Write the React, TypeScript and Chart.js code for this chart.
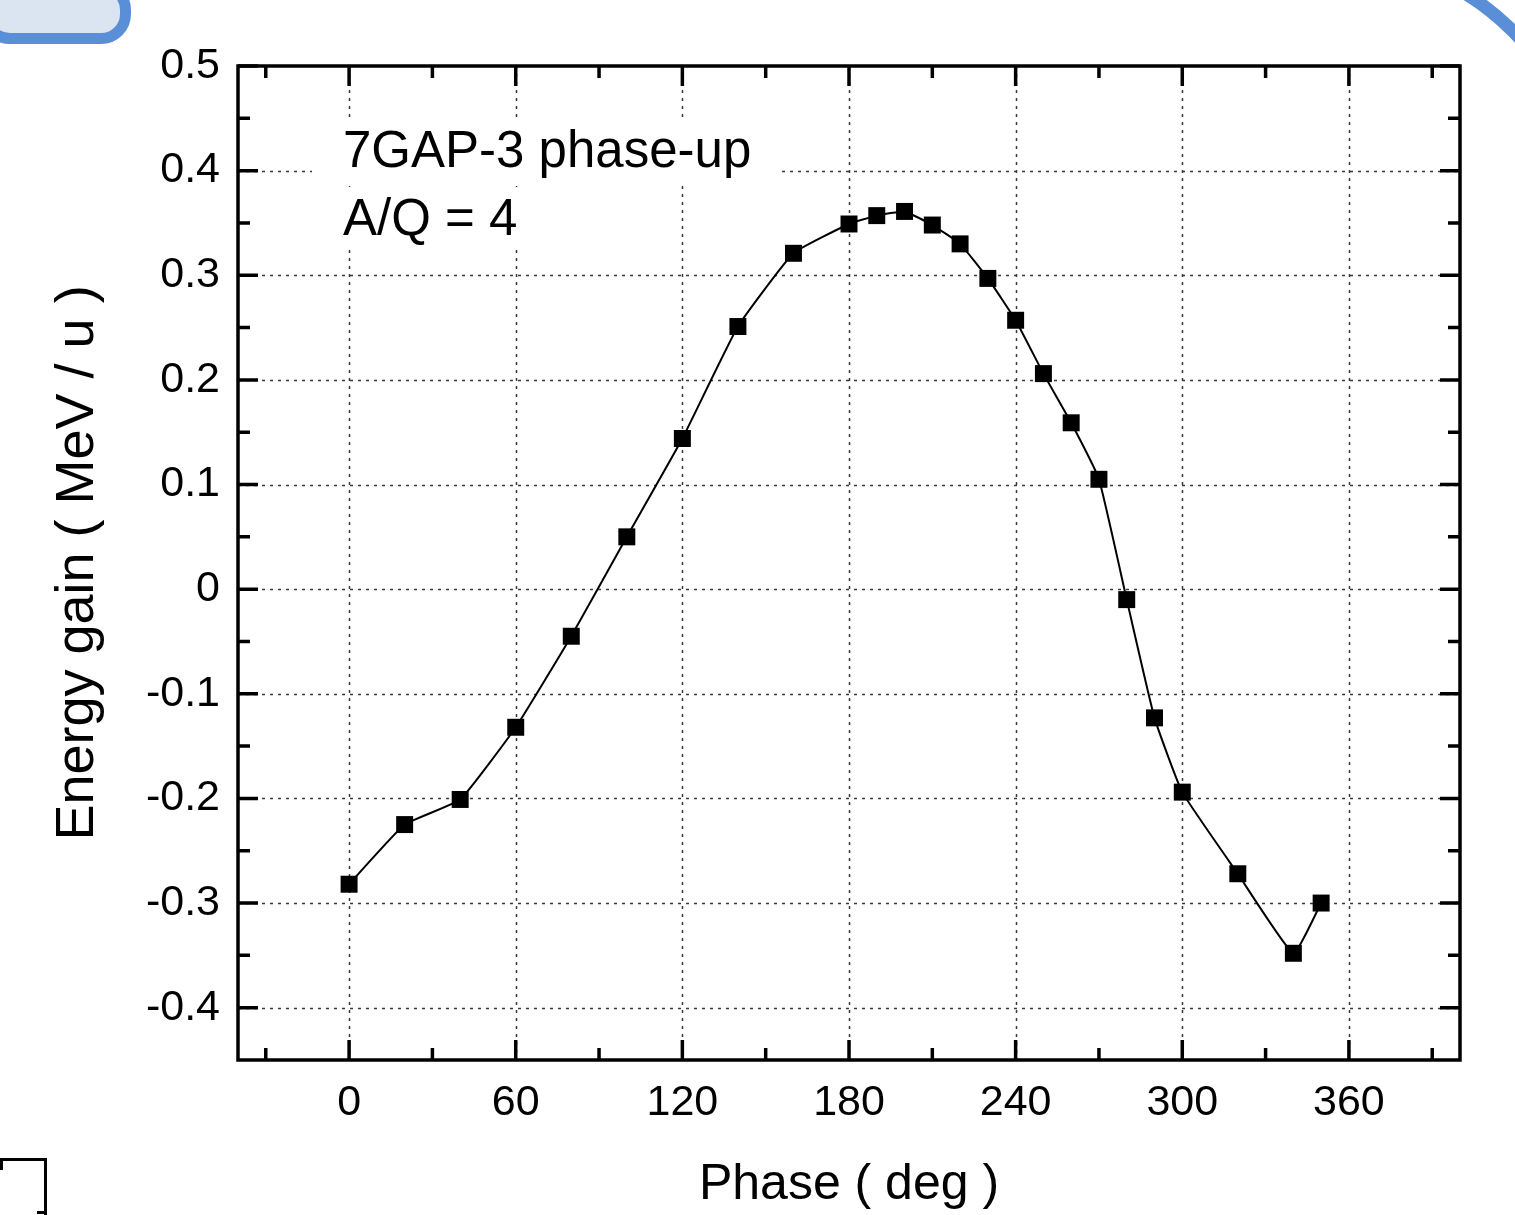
import React, { useEffect, useRef } from "react";
import { Chart, registerables } from "chart.js";

Chart.register(...registerables);

// ---- data ----
const phase = [0, 20, 40, 60, 80, 100, 120, 140, 160, 180, 190, 200, 210, 220, 230, 240, 250, 260, 270, 280, 290, 300, 320, 340, 350];
const gain = [-0.282, -0.225, -0.201, -0.132, -0.045, 0.05, 0.144, 0.251, 0.321, 0.349, 0.357, 0.361, 0.348, 0.33, 0.297, 0.257, 0.206, 0.159, 0.105, -0.01, -0.123, -0.194, -0.272, -0.348, -0.3];
const xTicks = [0, 60, 120, 180, 240, 300, 360];
const xMinor = [-30, 30, 90, 150, 210, 270, 330, 390];
const yTicks = [-0.4, -0.3, -0.2, -0.1, 0, 0.1, 0.2, 0.3, 0.4, 0.5];
const yMinor = [-0.35, -0.25, -0.15, -0.05, 0.05, 0.15, 0.25, 0.35, 0.45];
const notes = ["7GAP-3 phase-up", "A/Q = 4"];
const xTitle = "Phase ( deg )";
const yTitle = "Energy gain ( MeV / u )";

const FONT = '"Liberation Sans", Arial, Helvetica, sans-serif';

const framePlugin = {
  id: "originFrame",
  beforeDatasetsDraw(chart: any) {
    const { ctx, chartArea: a, scales } = chart;
    const x = scales.x, y = scales.y;
    ctx.save();
    // dotted grid
    ctx.strokeStyle = "#3a3a3a";
    ctx.lineWidth = 1.5;
    ctx.setLineDash([3, 5]);
    xTicks.forEach((v) => {
      const px = Math.round(x.getPixelForValue(v)) + 0.5;
      ctx.beginPath();
      ctx.moveTo(px, a.top);
      ctx.lineTo(px, a.bottom);
      ctx.stroke();
    });
    yTicks.filter((v) => v < 0.5).forEach((v) => {
      const py = Math.round(y.getPixelForValue(v)) + 0.5;
      ctx.beginPath();
      ctx.moveTo(a.left, py);
      ctx.lineTo(a.right, py);
      ctx.stroke();
    });
    ctx.setLineDash([]);
    // annotation with white backgrounds
    ctx.font = `51px ${FONT}`;
    ctx.textBaseline = "alphabetic";
    ctx.textAlign = "left";
    const tx = a.left + 105;
    notes.forEach((t, i) => {
      const base = a.top + 101 + i * 68;
      const w = ctx.measureText(t).width;
      ctx.fillStyle = "#ffffff";
      ctx.fillRect(tx - 31, base - 48, w + 58, 62);
    });
    notes.forEach((t, i) => {
      const base = a.top + 101 + i * 68;
      ctx.fillStyle = "#000000";
      ctx.fillText(t, tx, base);
    });
    ctx.restore();
  },
  afterDatasetsDraw(chart: any) {
    const { ctx, chartArea: a, scales } = chart;
    const x = scales.x, y = scales.y;
    ctx.save();
    ctx.strokeStyle = "#000";
    ctx.lineCap = "butt";
    const MAJ = 20, MIN = 12;
    ctx.lineWidth = 3.5;
    const vt = (v: number, len: number) => {
      const px = x.getPixelForValue(v);
      ctx.beginPath();
      ctx.moveTo(px, a.bottom);
      ctx.lineTo(px, a.bottom - len);
      ctx.moveTo(px, a.top);
      ctx.lineTo(px, a.top + len);
      ctx.stroke();
    };
    const ht = (v: number, len: number) => {
      const py = y.getPixelForValue(v);
      ctx.beginPath();
      ctx.moveTo(a.left, py);
      ctx.lineTo(a.left + len, py);
      ctx.moveTo(a.right, py);
      ctx.lineTo(a.right - len, py);
      ctx.stroke();
    };
    xTicks.forEach((v) => vt(v, MAJ));
    xMinor.forEach((v) => vt(v, MIN));
    yTicks.forEach((v) => ht(v, MAJ));
    yMinor.forEach((v) => ht(v, MIN));
    // frame
    ctx.lineWidth = 3.5;
    ctx.lineJoin = "miter";
    ctx.strokeRect(a.left, a.top, a.right - a.left, a.bottom - a.top);
    ctx.restore();
  },
};

export default function App() {
  const ref = useRef<HTMLCanvasElement>(null);

  useEffect(() => {
    if (!ref.current) return;
    const chart = new Chart(ref.current, {
      type: "line",
      data: {
        datasets: [
          {
            data: phase.map((p, i) => ({ x: p, y: gain[i] })),
            borderColor: "#000",
            borderWidth: 2,
            backgroundColor: "#000",
            pointStyle: "rect",
            pointRadius: 12,
            pointBorderWidth: 0,
            pointBackgroundColor: "#000",
            tension: 0.12,
            fill: false,
          },
        ],
      },
      options: {
        responsive: false,
        animation: false,
        events: [],
        layout: { padding: { left: 0, top: 66, right: 55, bottom: 0 } },
        plugins: { legend: { display: false }, tooltip: { enabled: false } },
        scales: {
          x: {
            type: "linear",
            min: -40,
            max: 400,
            afterBuildTicks: (s: any) => {
              s.ticks = xTicks.map((v) => ({ value: v }));
            },
            afterFit: (s: any) => {
              s.height = 155;
            },
            grid: { display: false, drawTicks: false },
            border: { display: false },
            ticks: {
              padding: 17,
              color: "#000",
              font: { family: FONT, size: 43 },
              maxRotation: 0,
              autoSkip: false,
              callback: (v: any) => String(v),
            },
            title: {
              display: true,
              text: xTitle,
              color: "#000",
              font: { family: FONT, size: 50 },
              padding: 0,
            },
          },
          y: {
            type: "linear",
            min: -0.45,
            max: 0.5,
            afterBuildTicks: (s: any) => {
              s.ticks = yTicks.map((v) => ({ value: v }));
            },
            afterFit: (s: any) => {
              s.width = 238;
            },
            grid: { display: false, drawTicks: false },
            border: { display: false },
            ticks: {
              padding: 18,
              color: "#000",
              font: { family: FONT, size: 43 },
              autoSkip: false,
              callback: (v: any) => (Math.abs(v) < 1e-9 ? "0" : Number(v).toFixed(1)),
            },
            title: {
              display: true,
              text: yTitle,
              color: "#000",
              font: { family: FONT, size: 54 },
              padding: { top: 46, bottom: 0 },
            },
          },
        },
      },
      plugins: [framePlugin],
    } as any);
    return () => chart.destroy();
  }, []);

  return (
    <div style={{ position: "absolute", left: 0, top: 0, width: 1515, height: 1215, overflow: "hidden", background: "#fff" }}>
      <canvas ref={ref} width={1515} height={1215} style={{ position: "absolute", left: 0, top: 0 }} />
      {/* slide decorations */}
      <div
        style={{
          position: "absolute",
          left: -20,
          top: -20,
          width: 151,
          height: 64,
          border: "11px solid #5a8fd8",
          borderRadius: 30,
          background: "#dbe5f1",
          boxSizing: "border-box",
        }}
      />
      <div style={{ position: "absolute", left: 1440, top: 0, width: 75, height: 60, overflow: "hidden" }}>
        <div
          style={{
            position: "absolute",
            left: -372,
            top: -51,
            width: 526,
            height: 526,
            border: "13px solid #5a8fd8",
            borderRadius: "50%",
            boxSizing: "border-box",
          }}
        />
      </div>
      <div style={{ position: "absolute", left: 0, top: 1158, width: 47, height: 3, background: "#000" }} />
      <div style={{ position: "absolute", left: 44, top: 1158, width: 3, height: 57, background: "#000" }} />
      <div style={{ position: "absolute", left: 0, top: 1158, width: 3, height: 12, background: "#000" }} />
      <div style={{ position: "absolute", left: 37, top: 1211, width: 9, height: 3, background: "#000" }} />
    </div>
  );
}
